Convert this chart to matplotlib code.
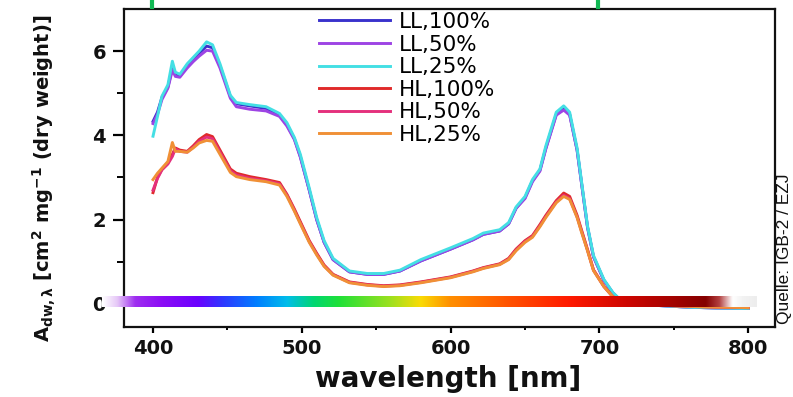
import numpy as np
import matplotlib
matplotlib.use("Agg")
import matplotlib.pyplot as plt
from matplotlib import font_manager as fm
from matplotlib.colors import LinearSegmentedColormap
from matplotlib.lines import Line2D

# ---------------- data ----------------
wavelength = [400, 403, 406, 410, 413, 415, 418, 423, 427, 431, 436, 440, 445, 452, 456,
              465, 476, 485, 490, 495, 499, 505, 510, 515, 521, 532, 544, 555, 566, 580,
              600, 615, 622, 633, 639, 644, 650, 655, 660, 664, 671, 676, 680, 685, 688,
              692, 696, 703, 709, 714, 720, 740, 760, 780, 800]

LL_25 = [3.98, 4.45, 4.93, 5.20, 5.76, 5.50, 5.45, 5.70, 5.85, 6.00, 6.22, 6.15, 5.70, 4.95, 4.78,
         4.73, 4.68, 4.52, 4.30, 3.95, 3.55, 2.75, 2.05, 1.50, 1.08, 0.78, 0.72, 0.72, 0.80, 1.05,
         1.33, 1.55, 1.68, 1.76, 1.93, 2.30, 2.55, 2.95, 3.20, 3.75, 4.55, 4.70, 4.55, 3.70, 2.90,
         1.85, 1.15, 0.58, 0.27, 0.10, 0.02, -0.04, -0.08, -0.10, -0.11]
LL_100 = [4.33, 4.55, 4.90, 5.15, 5.60, 5.45, 5.40, 5.65, 5.80, 5.95, 6.12, 6.08, 5.65, 4.92, 4.75,
          4.70, 4.64, 4.48, 4.25, 3.92, 3.50, 2.70, 2.00, 1.46, 1.05, 0.76, 0.70, 0.70, 0.78, 1.02,
          1.30, 1.52, 1.65, 1.73, 1.90, 2.27, 2.52, 2.92, 3.17, 3.70, 4.50, 4.64, 4.50, 3.65, 2.86,
          1.82, 1.12, 0.56, 0.26, 0.09, 0.02, -0.04, -0.08, -0.10, -0.11]
LL_50 = [4.28, 4.50, 4.85, 5.12, 5.55, 5.40, 5.38, 5.60, 5.75, 5.88, 6.02, 6.00, 5.60, 4.88, 4.68,
         4.62, 4.58, 4.45, 4.22, 3.90, 3.48, 2.70, 2.00, 1.46, 1.05, 0.76, 0.70, 0.70, 0.78, 1.02,
         1.30, 1.52, 1.65, 1.73, 1.90, 2.27, 2.50, 2.90, 3.15, 3.68, 4.48, 4.60, 4.48, 3.65, 2.86,
         1.82, 1.12, 0.56, 0.26, 0.09, 0.02, -0.04, -0.08, -0.10, -0.11]

HL_100 = [2.64, 3.00, 3.20, 3.35, 3.55, 3.70, 3.65, 3.62, 3.75, 3.90, 4.02, 3.97, 3.65, 3.20, 3.10,
          3.02, 2.95, 2.88, 2.60, 2.25, 1.95, 1.50, 1.20, 0.92, 0.70, 0.52, 0.46, 0.43, 0.45, 0.52,
          0.64, 0.78, 0.86, 0.95, 1.08, 1.30, 1.50, 1.62, 1.88, 2.10, 2.45, 2.63, 2.55, 2.10, 1.75,
          1.29, 0.81, 0.42, 0.17, 0.07, 0.02, -0.03, -0.06, -0.08, -0.09]
HL_50 = [2.70, 2.98, 3.18, 3.32, 3.50, 3.68, 3.62, 3.60, 3.72, 3.86, 3.96, 3.92, 3.60, 3.16, 3.06,
         2.98, 2.92, 2.85, 2.58, 2.22, 1.92, 1.48, 1.18, 0.90, 0.69, 0.51, 0.45, 0.42, 0.44, 0.51,
         0.63, 0.77, 0.85, 0.94, 1.06, 1.28, 1.48, 1.60, 1.85, 2.07, 2.42, 2.58, 2.50, 2.06, 1.72,
         1.27, 0.80, 0.41, 0.17, 0.07, 0.02, -0.03, -0.06, -0.08, -0.09]
HL_25 = [2.95, 3.10, 3.22, 3.38, 3.83, 3.62, 3.62, 3.60, 3.70, 3.82, 3.88, 3.86, 3.55, 3.12, 3.02,
         2.95, 2.90, 2.82, 2.55, 2.20, 1.90, 1.46, 1.16, 0.89, 0.68, 0.50, 0.44, 0.41, 0.43, 0.50,
         0.62, 0.76, 0.84, 0.93, 1.05, 1.26, 1.46, 1.58, 1.83, 2.05, 2.40, 2.55, 2.48, 2.05, 1.70,
         1.26, 0.79, 0.41, 0.17, 0.07, 0.02, -0.03, -0.06, -0.08, -0.09]

series_labels = ["LL,100%", "LL,50%", "LL,25%", "HL,100%", "HL,50%", "HL,25%"]
series_values = [LL_100, LL_50, LL_25, HL_100, HL_50, HL_25]
series_colors = ["#3a32cc", "#9d44e4", "#44dfe4", "#e02a2a", "#e4307c", "#f09036"]

x_ticks = [400, 500, 600, 700, 800]
y_ticks = [0, 2, 4, 6]

# ---------------- style ----------------
W, H = 793, 397
fig = plt.figure(figsize=(W / 100, H / 100), dpi=100)
fig.patch.set_facecolor("white")

def fx(px):
    return px / W

def fy(py):
    return 1 - py / H

ax = fig.add_axes([fx(124), fy(327), fx(775) - fx(124), fy(9) - fy(327)])
ax.set_xlim(380.5, 818)
ax.set_ylim(-0.55, 7.0)

for lab, vals, col in zip(series_labels, series_values, series_colors):
    ax.plot(wavelength, vals, color=col, lw=2.1, solid_joinstyle="round", label=lab, zorder=3)

for sp in ax.spines.values():
    sp.set_linewidth(1.6)
    sp.set_color("#111111")

ax.set_xticks(x_ticks)
ax.set_xticks([450, 550, 650, 750], minor=True)
ax.set_yticks(y_ticks)
ax.set_yticks([1, 3, 5], minor=True)
ax.tick_params(axis="x", which="major", direction="out", length=4, width=1.6, pad=5)
ax.tick_params(axis="x", which="minor", direction="out", length=2.5, width=1.4)
ax.tick_params(axis="y", which="major", direction="out", length=8, width=1.6, pad=5)
ax.tick_params(axis="y", which="minor", direction="out", length=5, width=1.4)
for t in ax.get_xticklabels() + ax.get_yticklabels():
    t.set_fontfamily("DejaVu Sans")
    t.set_fontweight("bold")
    t.set_fontsize(14)
    t.set_color("#111111")

# spectrum bar
stops = [(366, (1.0, 1.0, 1.0)), (376, (0.90, 0.78, 0.97)), (388, (0.62, 0.18, 0.94)),
         (405, (0.55, 0.05, 0.96)), (430, (0.42, 0.0, 1.0)), (447, (0.18, 0.22, 1.0)),
         (470, (0.0, 0.50, 1.0)), (490, (0.0, 0.74, 0.92)), (508, (0.0, 0.84, 0.45)),
         (525, (0.12, 0.88, 0.22)), (560, (0.62, 0.88, 0.12)), (580, (0.98, 0.86, 0.02)),
         (600, (1.0, 0.56, 0.0)), (640, (1.0, 0.32, 0.0)), (680, (1.0, 0.10, 0.0)),
         (720, (0.80, 0.02, 0.0)), (772, (0.52, 0.0, 0.0)), (781, (0.70, 0.25, 0.25)),
         (790, (1.0, 1.0, 1.0)), (797, (0.95, 0.95, 0.95)), (806, (0.93, 0.93, 0.93))]
lo, hi = stops[0][0], stops[-1][0]
cmap = LinearSegmentedColormap.from_list(
    "spec", [((w - lo) / (hi - lo), c) for w, c in stops], N=512)
grad = np.linspace(0, 1, 512)[None, :]
ax.imshow(grad, cmap=cmap, aspect="auto", extent=[lo, hi, -0.085, 0.17],
          zorder=5, clip_on=False, interpolation="bilinear")
ax.set_xlim(380.5, 818)
ax.set_ylim(-0.55, 7.0)

# legend
handles = [Line2D([], [], color=c, lw=2.1) for c in series_colors]
leg = fig.legend(handles, series_labels, loc="upper left",
                 bbox_to_anchor=(fx(319), fy(12)), frameon=False,
                 prop={"family": "DejaVu Sans", "size": 15.5},
                 handlelength=3.3, handletextpad=0.4, labelspacing=0.12,
                 borderpad=0, borderaxespad=0)

# y label
names = {f.name for f in fm.fontManager.ttflist}
if "Liberation Sans Narrow" in names:
    yfam, ysize = "Liberation Sans Narrow", 19
else:
    yfam, ysize = "DejaVu Sans", 14
plt.rcParams["mathtext.fontset"] = "custom"
plt.rcParams["mathtext.bf"] = yfam + ":bold"
plt.rcParams["mathtext.rm"] = yfam + ":bold"
plt.rcParams["mathtext.default"] = "bf"
fig.text(fx(44), fy(178), r"$\mathbf{A}_{\mathbf{dw},\lambda}$ [cm$^{2}$ mg$^{-1}$ (dry weight)]",
         rotation=90, ha="center", va="center", family=yfam, fontweight="bold",
         fontsize=ysize, color="#111111")

# x label
fig.text(fx(448), fy(387), "wavelength [nm]", ha="center", va="baseline",
         family="DejaVu Sans", fontweight="bold", fontsize=20, color="#111111")

# source note
fig.text(fx(789.5), fy(324), "Quelle: IGB-2 / EZJ", rotation=90, rotation_mode="anchor",
         ha="left", va="baseline", family="Liberation Sans", fontsize=12.5, color="#111111")

# small green marks at top
for px in (152, 598):
    fig.add_artist(Line2D([fx(px), fx(px)], [fy(0), fy(7)], color="#12b854", lw=3,
                          transform=fig.transFigure))

fig.savefig("out.png", dpi=100, facecolor="white")
